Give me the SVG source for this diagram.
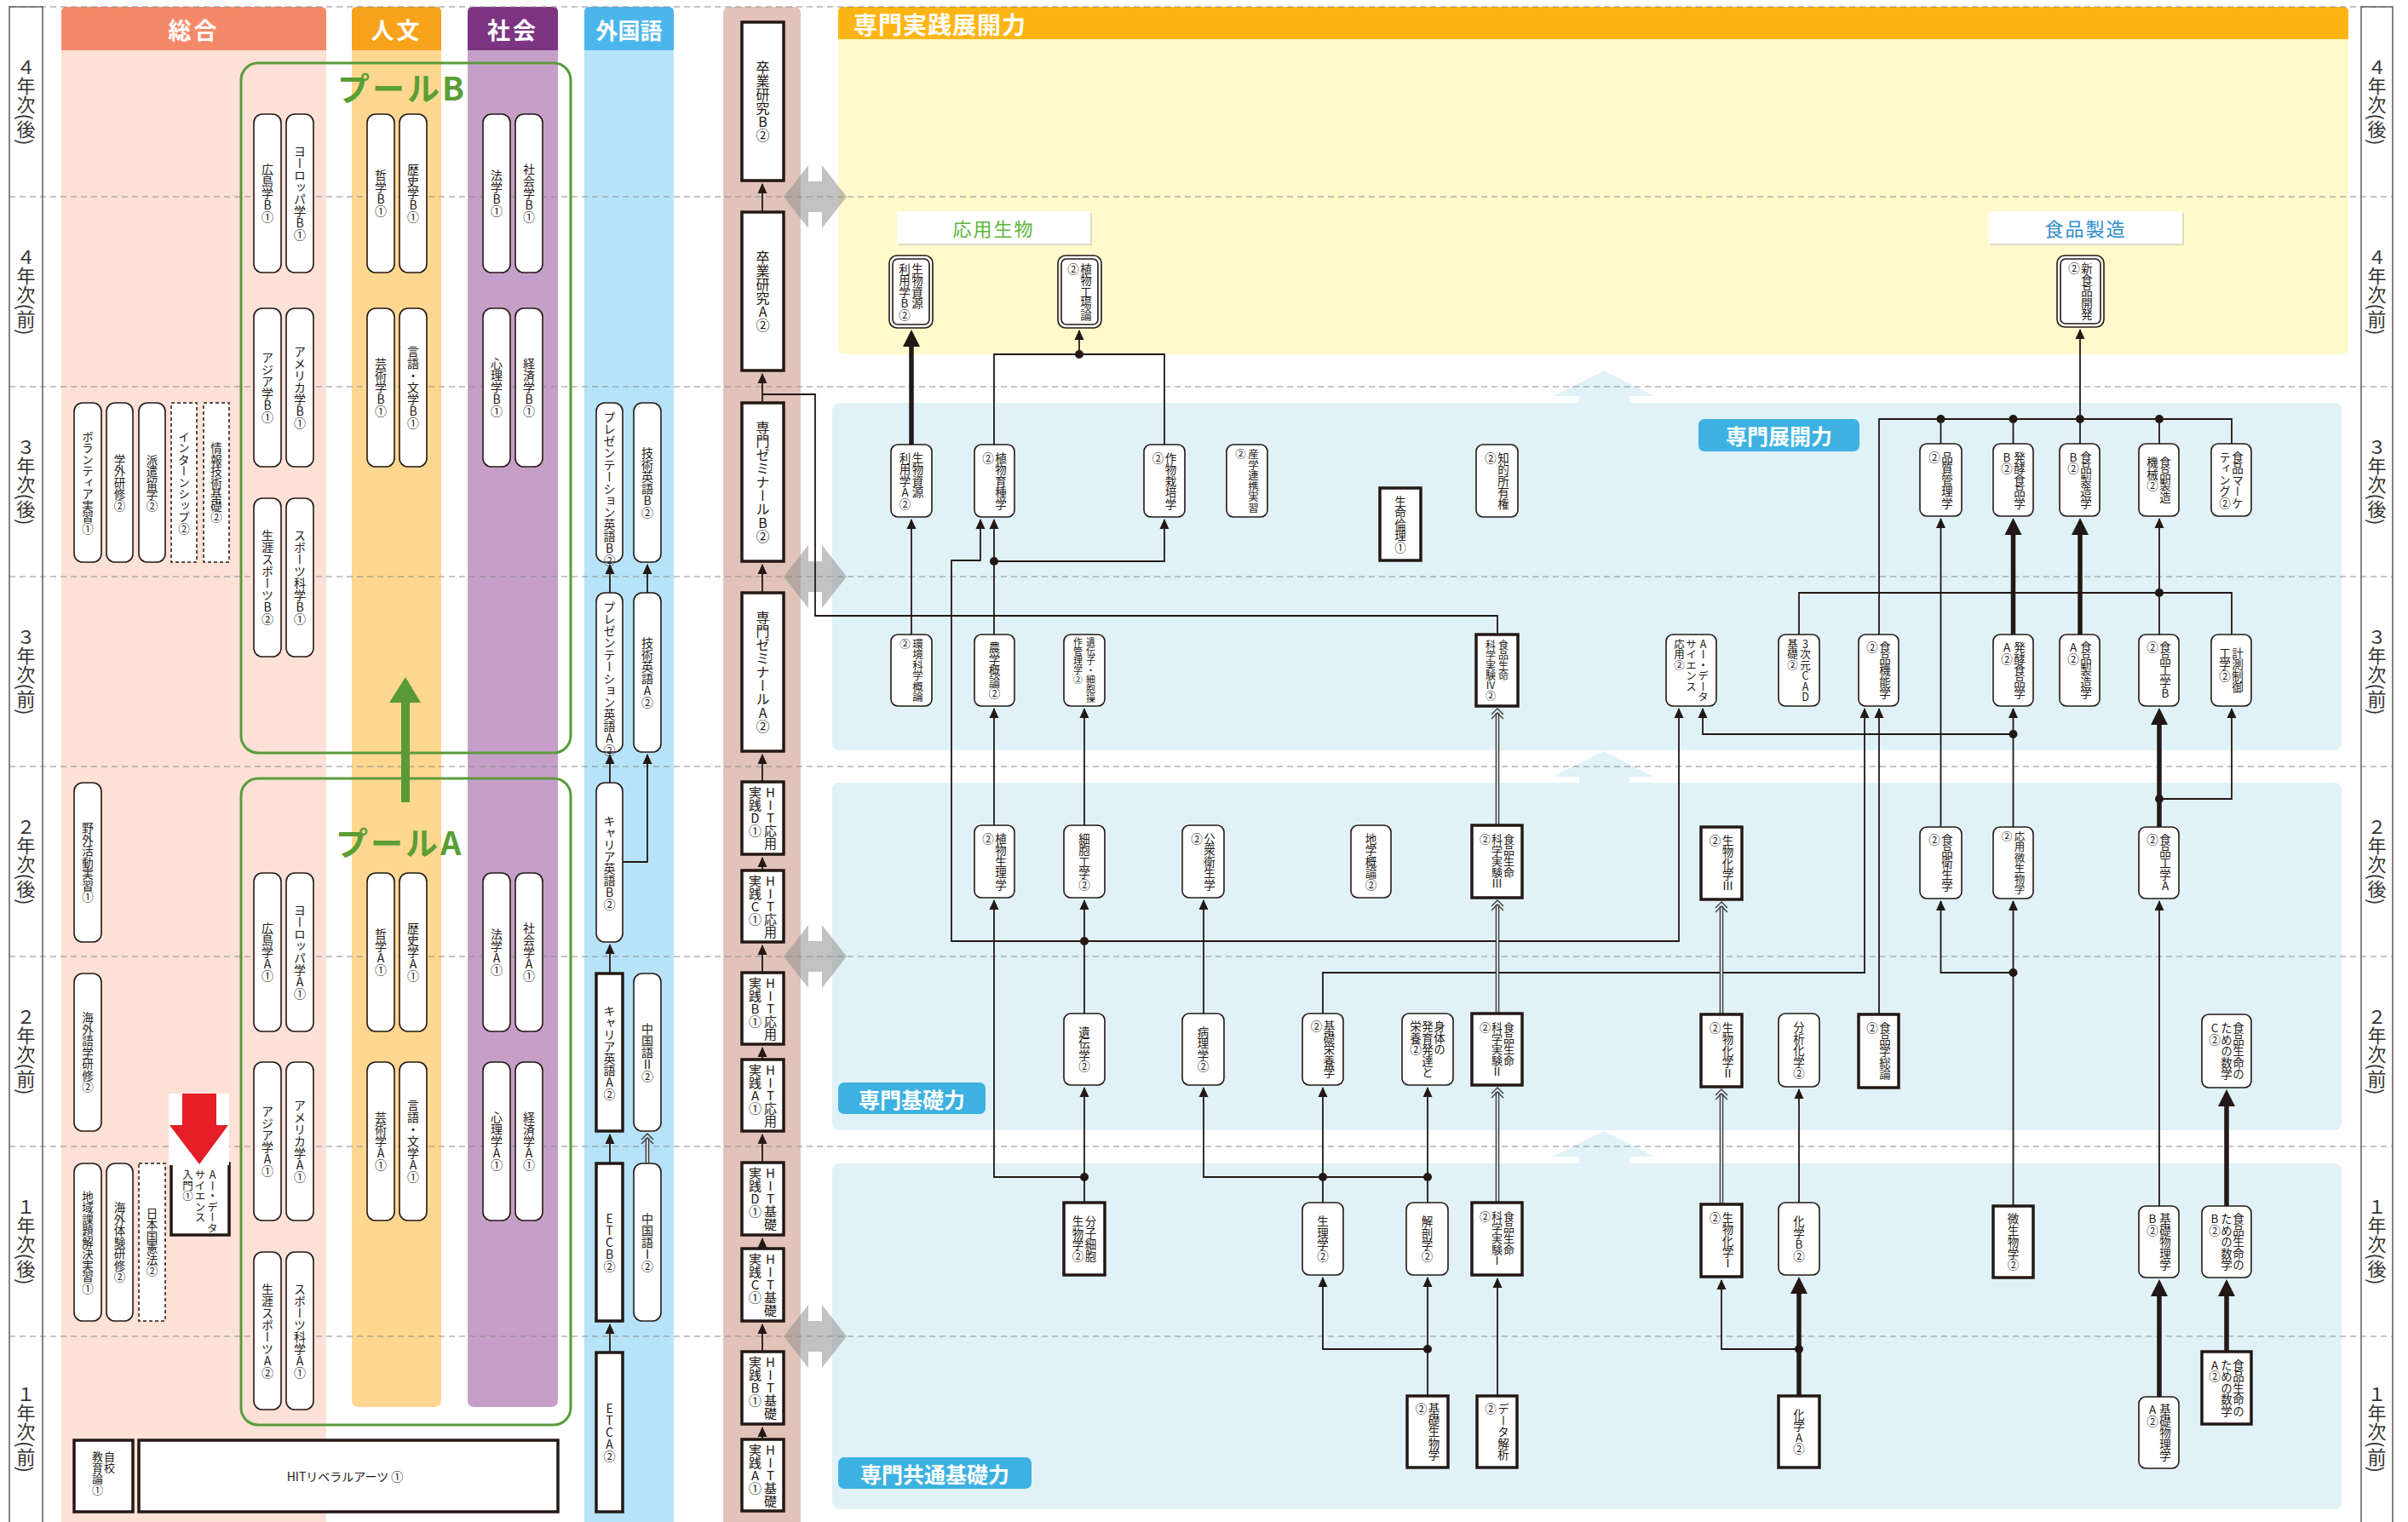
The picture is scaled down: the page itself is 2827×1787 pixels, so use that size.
<svg xmlns="http://www.w3.org/2000/svg" width="2827" height="1787" viewBox="0 0 2827 1787">
<defs>
<style>
.v{writing-mode:vertical-rl;text-orientation:upright;font-family:"Noto Sans CJK JP","Noto Sans CJK SC",sans-serif;fill:#231815}
.yr{writing-mode:vertical-rl;text-orientation:mixed;font-family:"Noto Sans CJK JP",sans-serif;font-size:22px;fill:#333}
.hd{font-family:"Noto Sans CJK JP",sans-serif;font-weight:700;fill:#fff;text-anchor:middle;dominant-baseline:central}
.rb{fill:#fff;stroke:#231815;stroke-width:1.6}
.tk{fill:#fff;stroke:#231815;stroke-width:3.5}
.ds{fill:#fff;stroke:#231815;stroke-width:1.5;stroke-dasharray:4 3}
.c{fill:none;stroke:#231815;stroke-width:1.8}
.ck{fill:none;stroke:#231815;stroke-width:5.5}
.dl{fill:none;stroke:#3a3a3a;stroke-width:4.6}
.dw{fill:none;stroke:#fff;stroke-width:1.6}
.dash{stroke:#8c8c8c;stroke-width:1.2;stroke-dasharray:7 5}
.dot{fill:#231815}
.pool{fill:none;stroke:#5B9B3B;stroke-width:3}
.pl{font-family:"Noto Sans CJK JP",sans-serif;font-size:38px;font-weight:700;fill:#5A9E35;letter-spacing:3px}
</style>
<marker id="a" viewBox="0 0 12 12" refX="11" refY="6" markerWidth="12" markerHeight="12" orient="auto" markerUnits="userSpaceOnUse"><path d="M0,0.5 L12,6 L0,11.5 z" fill="#231815"/></marker>
<marker id="ak" viewBox="0 0 20 20" refX="8" refY="10" markerWidth="20" markerHeight="20" orient="auto" markerUnits="userSpaceOnUse"><path d="M0,0 L20,10 L0,20 z" fill="#231815"/></marker>
<path id="chev" d="M-7,8 L0,1 L7,8 M-7,13 L0,6 L7,13" fill="none" stroke="#3a3a3a" stroke-width="1.4"/>
<polygon id="gda" points="-37,0 -8,-37 -8,-18 8,-18 8,-37 37,0 8,37 8,18 -8,18 -8,37" fill="#8f8f8f" fill-opacity="0.55"/>
<polygon id="lba" points="0,0 59,30 30,30 30,39 -29,39 -29,30 -60,30" fill="#E0F2F7"/>
</defs>
<rect width="2827" height="1787" fill="#fff"/>

<g id="backgrounds">
<rect x="72" y="59" width="311" height="1728" fill="#FDE1D6"/>
<path d="M72,59 V14 Q72,8 78,8 H377 Q383,8 383,14 V59 Z" fill="#F4896A"/>
<path d="M413,59 H518 V1644 Q518,1652 510,1652 H421 Q413,1652 413,1644 Z" fill="#FDD78F"/>
<path d="M413,59 V14 Q413,8 419,8 H512 Q518,8 518,14 V59 Z" fill="#F7A21B"/>
<path d="M549,59 H655 V1644 Q655,1652 647,1652 H557 Q549,1652 549,1644 Z" fill="#C59FC8"/>
<path d="M549,59 V14 Q549,8 555,8 H649 Q655,8 655,14 V59 Z" fill="#7C3483"/>
<rect x="686" y="59" width="105" height="1728" fill="#B7E3F8"/>
<path d="M686,59 V14 Q686,8 692,8 H785 Q791,8 791,14 V59 Z" fill="#4BB6EB"/>
<path d="M849,1787 V16 Q849,8 857,8 H932 Q940,8 940,16 V1787 Z" fill="#E2C3B9"/>
<path d="M984,46 V14 Q984,8 990,8 H2751 Q2757,8 2757,14 V46 Z" fill="#FDB515"/>
<path d="M984,46 H2757 V408 Q2757,416 2749,416 H992 Q984,416 984,408 Z" fill="#FFF9CC"/>
<rect x="977" y="473" width="1772" height="408" rx="8" fill="#E0F2F7"/>
<rect x="977" y="919" width="1772" height="408" rx="8" fill="#E0F2F7"/>
<rect x="977" y="1366" width="1772" height="406" rx="8" fill="#E0F2F7"/>
<use href="#lba" x="1883" y="435"/>
<use href="#lba" x="1883" y="882"/>
<use href="#lba" x="1883" y="1328"/>
</g>

<g id="row-lines">
<line class="dash" x1="11" y1="8" x2="2809" y2="8"/>
<line class="dash" x1="11" y1="231" x2="2809" y2="231"/>
<line class="dash" x1="11" y1="454" x2="2809" y2="454"/>
<line class="dash" x1="11" y1="677" x2="2809" y2="677"/>
<line class="dash" x1="11" y1="900" x2="2809" y2="900"/>
<line class="dash" x1="11" y1="1123" x2="2809" y2="1123"/>
<line class="dash" x1="11" y1="1346" x2="2809" y2="1346"/>
<line class="dash" x1="11" y1="1569" x2="2809" y2="1569"/>
</g>

<g id="year-columns">
<rect x="11" y="8" width="39" height="1790" fill="none" stroke="#666" stroke-width="1.6"/>
<rect x="2772" y="8" width="37" height="1790" fill="none" stroke="#666" stroke-width="1.6"/>
<g class="yr">
<text x="30.5" y="67.5">４年次(後)</text>
<text x="30.5" y="290.5">４年次(前)</text>
<text x="30.5" y="513.5">３年次(後)</text>
<text x="30.5" y="736.5">３年次(前)</text>
<text x="30.5" y="959.5">２年次(後)</text>
<text x="30.5" y="1182.5">２年次(前)</text>
<text x="30.5" y="1405.5">１年次(後)</text>
<text x="30.5" y="1626">１年次(前)</text>
<text x="2790.5" y="67.5">４年次(後)</text>
<text x="2790.5" y="290.5">４年次(前)</text>
<text x="2790.5" y="513.5">３年次(後)</text>
<text x="2790.5" y="736.5">３年次(前)</text>
<text x="2790.5" y="959.5">２年次(後)</text>
<text x="2790.5" y="1182.5">２年次(前)</text>
<text x="2790.5" y="1405.5">１年次(後)</text>
<text x="2790.5" y="1626">１年次(前)</text>
</g>
</g>

<g id="headers">
<text class="hd" x="227.5" y="34" font-size="27" letter-spacing="3">総合</text>
<text class="hd" x="465.5" y="34" font-size="27" letter-spacing="3">人文</text>
<text class="hd" x="602" y="34" font-size="27" letter-spacing="3">社会</text>
<text class="hd" x="738.5" y="34" font-size="26">外国語</text>
<text x="1002" y="28" font-size="28" font-weight="700" fill="#fff" dominant-baseline="central" letter-spacing="1" font-family="Noto Sans CJK JP, sans-serif">専門実践展開力</text>
</g>

<g id="gray-double-arrows">
<use href="#gda" x="957" y="231"/>
<use href="#gda" x="957" y="677"/>
<use href="#gda" x="957" y="1123"/>
<use href="#gda" x="957" y="1569"/>
</g>

<g id="area-labels">
<rect x="1055" y="250" width="227" height="38" fill="#bbb" fill-opacity="0.5"/>
<rect x="1053" y="248" width="227" height="38" fill="#fff"/>
<text x="1166.5" y="267" font-size="22" fill="#5DB43A" text-anchor="middle" dominant-baseline="central" letter-spacing="2" font-family="Noto Sans CJK JP, sans-serif">応用生物</text>
<rect x="2337" y="250" width="227" height="38" fill="#bbb" fill-opacity="0.5"/>
<rect x="2335" y="248" width="227" height="38" fill="#fff"/>
<text x="2448.5" y="267" font-size="22" fill="#2E8BCB" text-anchor="middle" dominant-baseline="central" letter-spacing="2" font-family="Noto Sans CJK JP, sans-serif">食品製造</text>
<rect x="1994" y="492" width="189" height="38" rx="7" fill="#3DB1E1"/>
<text class="hd" x="2088.5" y="511" font-size="25">専門展開力</text>
<rect x="984" y="1271" width="173" height="37" rx="7" fill="#3DB1E1"/>
<text class="hd" x="1070.5" y="1289.5" font-size="25">専門基礎力</text>
<rect x="984" y="1711" width="227" height="37" rx="7" fill="#3DB1E1"/>
<text class="hd" x="1097.5" y="1729.5" font-size="25">専門共通基礎力</text>
</g>

<g id="pools">
<rect class="pool" x="283" y="74" width="387" height="810" rx="20"/>
<rect class="pool" x="283" y="914" width="387" height="759" rx="20"/>
<text class="pl" x="396" y="118">プールB</text>
<text class="pl" x="394" y="1004">プールA</text>
<polygon points="471,942 481,942 481,825 494,825 476,795 457,825 471,825" fill="#5A9A36"/>
</g>

<g id="pool-nodes" font-size="14">
<g id="n-hiroB"><rect class="rb" x="298" y="134" width="32" height="186" rx="10"/><text class="v" x="314" y="192">広島学B①</text></g>
<g id="n-euroB"><rect class="rb" x="336" y="134" width="32" height="186" rx="10"/><text class="v" x="352" y="171">ヨーロッパ学B①</text></g>
<g id="n-philB"><rect class="rb" x="431" y="134" width="32" height="186" rx="10"/><text class="v" x="447" y="199">哲学B①</text></g>
<g id="n-histB"><rect class="rb" x="469" y="134" width="32" height="186" rx="10"/><text class="v" x="485" y="192">歴史学B①</text></g>
<g id="n-lawB"><rect class="rb" x="567" y="134" width="32" height="186" rx="10"/><text class="v" x="583" y="199">法学B①</text></g>
<g id="n-socB"><rect class="rb" x="605" y="134" width="32" height="186" rx="10"/><text class="v" x="621" y="192">社会学B①</text></g>
<g id="n-asiaB"><rect class="rb" x="298" y="362" width="32" height="186" rx="10"/><text class="v" x="314" y="413">アジア学B①</text></g>
<g id="n-amerB"><rect class="rb" x="336" y="362" width="32" height="186" rx="10"/><text class="v" x="352" y="406">アメリカ学B①</text></g>
<g id="n-artB"><rect class="rb" x="431" y="362" width="32" height="186" rx="10"/><text class="v" x="447" y="420">芸術学B①</text></g>
<g id="n-langB"><rect class="rb" x="469" y="362" width="32" height="186" rx="10"/><text class="v" x="485" y="406">言語・文学B①</text></g>
<g id="n-psyB"><rect class="rb" x="567" y="362" width="32" height="186" rx="10"/><text class="v" x="583" y="420">心理学B①</text></g>
<g id="n-ecoB"><rect class="rb" x="605" y="362" width="32" height="186" rx="10"/><text class="v" x="621" y="420">経済学B①</text></g>
<g id="n-lifeSpB"><rect class="rb" x="298" y="585" width="32" height="186" rx="10"/><text class="v" x="314" y="622">生涯スポーツB②</text></g>
<g id="n-spSciB"><rect class="rb" x="336" y="585" width="32" height="186" rx="10"/><text class="v" x="352" y="622">スポーツ科学B①</text></g>
<g id="n-hiroA"><rect class="rb" x="298" y="1025" width="32" height="186" rx="10"/><text class="v" x="314" y="1083">広島学A①</text></g>
<g id="n-euroA"><rect class="rb" x="336" y="1025" width="32" height="186" rx="10"/><text class="v" x="352" y="1062">ヨーロッパ学A①</text></g>
<g id="n-philA"><rect class="rb" x="431" y="1025" width="32" height="186" rx="10"/><text class="v" x="447" y="1090">哲学A①</text></g>
<g id="n-histA"><rect class="rb" x="469" y="1025" width="32" height="186" rx="10"/><text class="v" x="485" y="1083">歴史学A①</text></g>
<g id="n-lawA"><rect class="rb" x="567" y="1025" width="32" height="186" rx="10"/><text class="v" x="583" y="1090">法学A①</text></g>
<g id="n-socA"><rect class="rb" x="605" y="1025" width="32" height="186" rx="10"/><text class="v" x="621" y="1083">社会学A①</text></g>
<g id="n-asiaA"><rect class="rb" x="298" y="1247" width="32" height="186" rx="10"/><text class="v" x="314" y="1298">アジア学A①</text></g>
<g id="n-amerA"><rect class="rb" x="336" y="1247" width="32" height="186" rx="10"/><text class="v" x="352" y="1291">アメリカ学A①</text></g>
<g id="n-artA"><rect class="rb" x="431" y="1247" width="32" height="186" rx="10"/><text class="v" x="447" y="1305">芸術学A①</text></g>
<g id="n-langA"><rect class="rb" x="469" y="1247" width="32" height="186" rx="10"/><text class="v" x="485" y="1291">言語・文学A①</text></g>
<g id="n-psyA"><rect class="rb" x="567" y="1247" width="32" height="186" rx="10"/><text class="v" x="583" y="1305">心理学A①</text></g>
<g id="n-ecoA"><rect class="rb" x="605" y="1247" width="32" height="186" rx="10"/><text class="v" x="621" y="1305">経済学A①</text></g>
<g id="n-lifeSpA"><rect class="rb" x="298" y="1470" width="32" height="185" rx="10"/><text class="v" x="314" y="1506.5">生涯スポーツA②</text></g>
<g id="n-spSciA"><rect class="rb" x="336" y="1470" width="32" height="185" rx="10"/><text class="v" x="352" y="1506.5">スポーツ科学A①</text></g>
</g>

<g id="general-nodes" font-size="13.5">
<g id="n-volunteer"><rect class="rb" x="87" y="473" width="32" height="187" rx="10"/><text class="v" x="103" y="505.75">ボランティア実習①</text></g>
<g id="n-gakugai"><rect class="rb" x="125" y="473" width="31" height="187" rx="10"/><text class="v" x="140.5" y="532.75">学外研修②</text></g>
<g id="n-haken"><rect class="rb" x="163" y="473" width="31" height="187" rx="10"/><text class="v" x="178.5" y="532.75">派遣留学②</text></g>
<g id="n-intern"><rect class="ds" x="201" y="473" width="30" height="187"/><text class="v" x="216" y="505.75">インターンシップ②</text></g>
<g id="n-joho"><rect class="ds" x="239" y="473" width="30" height="187"/><text class="v" x="254" y="519.25">情報技術基礎②</text></g>
<g id="n-yagai"><rect class="rb" x="87" y="919" width="32" height="187" rx="10"/><text class="v" x="103" y="965.25">野外活動実習①</text></g>
<g id="n-kaigaigo"><rect class="rb" x="87" y="1143" width="32" height="185" rx="10"/><text class="v" x="103" y="1188.25">海外語学研修②</text></g>
<g id="n-chiiki"><rect class="rb" x="87" y="1366" width="32" height="185" rx="10"/><text class="v" x="103" y="1397.75">地域課題解決実習①</text></g>
<g id="n-kaigaitai"><rect class="rb" x="125" y="1366" width="31" height="185" rx="10"/><text class="v" x="140.5" y="1411.25">海外体験研修②</text></g>
<g id="n-kenpo"><rect class="ds" x="163" y="1366" width="31" height="185"/><text class="v" x="178.5" y="1418">日本国憲法②</text></g>
<g id="n-ainyumon" font-size="12.5"><rect class="tk" x="201" y="1366" width="68" height="84"/><text class="v" x="249.5" y="1373">AI・データ</text><text class="v" x="235" y="1373">サイエンス</text><text class="v" x="220.5" y="1373">入門①</text>
<rect x="198" y="1284" width="71" height="84" fill="#fff"/><polygon points="214,1284 254,1284 254,1321 268,1321 234,1367 199,1321 214,1321" fill="#E61E28"/></g>
<g id="n-jiko" font-size="13"><rect class="tk" x="87" y="1691" width="69" height="84"/><text class="v" x="128.5" y="1704">自校</text><text class="v" x="114.5" y="1704">教育論①</text></g>
<g id="n-liberal"><rect class="tk" x="163" y="1691" width="492" height="84"/><text x="405" y="1733" font-size="14" text-anchor="middle" dominant-baseline="central" fill="#231815" font-family="Noto Sans CJK JP, sans-serif">HITリベラルアーツ ①</text></g>
</g>

<g id="language-nodes" font-size="14">
<g id="n-presB"><rect class="rb" x="700" y="473" width="31" height="187" rx="10"/><text class="v" x="715.5" y="482.5">プレゼンテーション英語B②</text></g>
<g id="n-techB"><rect class="rb" x="744" y="473" width="32" height="187" rx="10"/><text class="v" x="760" y="524.5">技術英語B②</text></g>
<g id="n-presA"><rect class="rb" x="700" y="696" width="31" height="187" rx="10"/><text class="v" x="715.5" y="705.5">プレゼンテーション英語A②</text></g>
<g id="n-techA"><rect class="rb" x="744" y="696" width="32" height="187" rx="10"/><text class="v" x="760" y="747.5">技術英語A②</text></g>
<g id="n-careerB"><rect class="rb" x="700" y="919" width="31" height="187" rx="10"/><text class="v" x="715.5" y="956.5">キャリア英語B②</text></g>
<g id="n-careerA"><rect class="tk" x="700" y="1143" width="31" height="185"/><text class="v" x="715.5" y="1179.5">キャリア英語A②</text></g>
<g id="n-chn2"><rect class="rb" x="744" y="1143" width="32" height="185" rx="10"/><text class="v" x="760" y="1200.5">中国語Ⅱ②</text></g>
<g id="n-etcb"><rect class="tk" x="700" y="1366" width="31" height="185"/><text class="v" x="715.5" y="1423.5">ETCB②</text></g>
<g id="n-chn1"><rect class="rb" x="744" y="1366" width="32" height="185" rx="10"/><text class="v" x="760" y="1423.5">中国語Ⅰ②</text></g>
<g id="n-etca"><rect class="tk" x="700" y="1588" width="31" height="187"/><text class="v" x="715.5" y="1646.5">ETCA②</text></g>
</g>

<g id="practice-nodes">
<g id="n-sotsuB" font-size="16"><rect class="tk" x="871" y="26" width="49" height="186"/><text class="v" x="895.5" y="71">卒業研究B②</text></g>
<g id="n-sotsuA" font-size="16"><rect class="tk" x="871" y="249" width="49" height="186"/><text class="v" x="895.5" y="294">卒業研究A②</text></g>
<g id="n-semiB" font-size="16"><rect class="tk" x="871" y="473" width="49" height="186"/><text class="v" x="895.5" y="494">専門ゼミナールB②</text></g>
<g id="n-semiA" font-size="16"><rect class="tk" x="871" y="696" width="49" height="186"/><text class="v" x="895.5" y="717">専門ゼミナールA②</text></g>
<g id="n-oyoD" font-size="15"><rect class="tk" x="871" y="918" width="49" height="85"/><text class="v" x="904.5" y="923">HIT応用</text><text class="v" x="886.5" y="923">実践D①</text></g>
<g id="n-oyoC" font-size="15"><rect class="tk" x="871" y="1022" width="49" height="84"/><text class="v" x="904.5" y="1026.5">HIT応用</text><text class="v" x="886.5" y="1026.5">実践C①</text></g>
<g id="n-oyoB" font-size="15"><rect class="tk" x="871" y="1142" width="49" height="84"/><text class="v" x="904.5" y="1146.5">HIT応用</text><text class="v" x="886.5" y="1146.5">実践B①</text></g>
<g id="n-oyoA" font-size="15"><rect class="tk" x="871" y="1244" width="49" height="84"/><text class="v" x="904.5" y="1248.5">HIT応用</text><text class="v" x="886.5" y="1248.5">実践A①</text></g>
<g id="n-kisoD" font-size="15"><rect class="tk" x="871" y="1365" width="49" height="85"/><text class="v" x="904.5" y="1370">HIT基礎</text><text class="v" x="886.5" y="1370">実践D①</text></g>
<g id="n-kisoC" font-size="15"><rect class="tk" x="871" y="1466" width="49" height="85"/><text class="v" x="904.5" y="1471">HIT基礎</text><text class="v" x="886.5" y="1471">実践C①</text></g>
<g id="n-kisoB" font-size="15"><rect class="tk" x="871" y="1587" width="49" height="85"/><text class="v" x="904.5" y="1592">HIT基礎</text><text class="v" x="886.5" y="1592">実践B①</text></g>
<g id="n-kisoA" font-size="15"><rect class="tk" x="871" y="1690" width="49" height="84"/><text class="v" x="904.5" y="1694.5">HIT基礎</text><text class="v" x="886.5" y="1694.5">実践A①</text></g>
</g>

<g id="connectors">
<g class="c" marker-end="url(#a)">
<path d="M895,1690V1676"/><path d="M895,1587V1555"/><path d="M895,1466V1454"/><path d="M895,1365V1332"/>
<path d="M895,1244V1230"/><path d="M895,1142V1110"/><path d="M895,1022V1007"/><path d="M895,918V886"/>
<path d="M895,696V663"/><path d="M895,473V439"/><path d="M895,249V216"/>
<path d="M716,1588V1555"/><path d="M716,1366V1332"/><path d="M716,1143V1109"/><path d="M716,919V886"/>
<path d="M716,696V663"/><path d="M760,696V663"/><path d="M731,1012H760V886"/>
<path d="M1070,745V610"/><path d="M1267,416V388"/><path d="M1167,745V610"/><path d="M1167,659H1367V610"/>
<path d="M1167,969V832"/><path d="M1273,969V832"/><path d="M1273,1190V1057"/>
<path d="M1273,1105H1117V658H1151V610"/><path d="M1273,1105H1971V832"/>
<path d="M1273,1412V1277"/><path d="M1273,1382H1167V1057"/>
<path d="M1676,1639V1500"/><path d="M1676,1584H1553V1500"/>
<path d="M1553,1412V1277"/><path d="M1676,1412V1277"/><path d="M1676,1382H1413V1277"/>
<path d="M1413,1190V1057"/><path d="M1553,1190V1142H2189V832"/>
<path d="M1758,1639V1501"/><path d="M2112,1584H2021V1503"/><path d="M2112,1412V1279"/>
<path d="M2206,1191V832"/><path d="M2363.5,1416V1058"/><path d="M2363.5,1142H2278.5V1058"/>
<path d="M2278.5,971V609"/><path d="M2363.5,971V832"/><path d="M2363.5,862H1999V832"/>
<path d="M2535,745V609"/><path d="M2535,1416V1058"/><path d="M2535,938H2620V832"/>
<path d="M2442,492V387"/>
</g>
<g class="c">
<path d="M1167,522V416H1367V522"/>
<path d="M1758,745V723H957V463H895"/>
<path d="M2112,745V696H2620V745"/>
<path d="M2206,745V492H2620V521"/>
<path d="M2278.5,521V492"/><path d="M2363.5,521V492"/><path d="M2442,521V492"/><path d="M2535,521V492"/>
</g>
<g class="ck" marker-end="url(#ak)">
<path d="M1070,522V399"/>
<path d="M2363.5,745V620"/>
<path d="M2442,745V620"/>
<path d="M2535,971V843"/>
<path d="M2112,1639V1511"/>
<path d="M2535,1640V1514"/>
<path d="M2614,1587V1514"/>
<path d="M2614,1416V1291"/>
</g>
<g>
<path class="dl" d="M1758,1412V1282"/><path class="dw" d="M1758,1411V1283"/><use href="#chev" x="1758" y="1276"/>
<path class="dl" d="M1758,1190V1062"/><path class="dw" d="M1758,1189V1063"/><use href="#chev" x="1758" y="1056"/>
<path class="dl" d="M1758,969V837"/><path class="dw" d="M1758,968V838"/><use href="#chev" x="1758" y="831"/>
<path class="dl" d="M2021,1414V1284"/><path class="dw" d="M2021,1413V1285"/><use href="#chev" x="2021" y="1278"/>
<path class="dl" d="M2021,1191V1064"/><path class="dw" d="M2021,1190V1065"/><use href="#chev" x="2021" y="1058"/>
<path class="dl" d="M760,1366V1336"/><path class="dw" d="M760,1365V1337"/><use href="#chev" x="760" y="1330"/>
</g>
<g class="dot">
<circle cx="1267" cy="416" r="5"/><circle cx="1167" cy="659" r="5"/><circle cx="1273" cy="1105" r="5"/><circle cx="1273" cy="1382" r="5"/>
<circle cx="1676" cy="1584" r="5"/><circle cx="1553" cy="1382" r="5"/><circle cx="1676" cy="1382" r="5"/><circle cx="2112" cy="1584" r="5"/>
<circle cx="2363.5" cy="1142" r="5"/><circle cx="2363.5" cy="862" r="5"/><circle cx="2535" cy="696" r="5"/><circle cx="2535" cy="938" r="5"/>
<circle cx="2278.5" cy="492" r="5"/><circle cx="2363.5" cy="492" r="5"/><circle cx="2442" cy="492" r="5"/><circle cx="2535" cy="492" r="5"/>
</g>
</g>

<g id="major-nodes" font-size="13.5">
<g id="n-bioB"><rect class="rb" x="1044" y="300" width="51" height="85" rx="9"/><rect class="rb" x="1048" y="304" width="43" height="77" rx="6"/><text class="v" x="1077" y="308.75">生物資源</text><text class="v" x="1062" y="308.75">利用学B②</text></g>
<g id="n-plantfactory"><rect class="rb" x="1242" y="300" width="51" height="85" rx="9"/><rect class="rb" x="1246" y="304" width="43" height="77" rx="6"/><text class="v" x="1275" y="308.75">植物工場論</text><text class="v" x="1260" y="308.75">②</text></g>
<g id="n-newfood"><rect class="rb" x="2415" y="300" width="55" height="84" rx="9"/><rect class="rb" x="2419" y="304" width="47" height="76" rx="6"/><text class="v" x="2450" y="308.25">新食品開発</text><text class="v" x="2435" y="308.25">②</text></g>

<g id="n-bioA"><rect class="rb" x="1046" y="522" width="48" height="85" rx="8"/><text class="v" x="1077.5" y="530.75">生物資源</text><text class="v" x="1062.5" y="530.75">利用学A②</text></g>
<g id="n-breed"><rect class="rb" x="1144" y="522" width="47" height="85" rx="8"/><text class="v" x="1175" y="530.75">植物育種学</text><text class="v" x="1160" y="530.75">②</text></g>
<g id="n-cropcult"><rect class="rb" x="1343" y="522" width="48" height="85" rx="8"/><text class="v" x="1374.5" y="530.75">作物栽培学</text><text class="v" x="1359.5" y="530.75">②</text></g>
<g id="n-sangaku" font-size="12.5"><rect class="rb" x="1440" y="522" width="48" height="85" rx="8"/><text class="v" x="1471.5" y="527">産学連携実習</text><text class="v" x="1456.5" y="527">②</text></g>
<g id="n-ethics"><rect class="tk" x="1620" y="573" width="48" height="85"/><text class="v" x="1644" y="581.75">生命倫理①</text></g>
<g id="n-chiteki"><rect class="rb" x="1733" y="522" width="49" height="85" rx="8"/><text class="v" x="1765" y="530.75">知的所有権</text><text class="v" x="1750" y="530.75">②</text></g>
<g id="n-quality"><rect class="rb" x="2254" y="521" width="49" height="85" rx="8"/><text class="v" x="2286" y="529.75">品質管理学</text><text class="v" x="2271" y="529.75">②</text></g>
<g id="n-fermB"><rect class="rb" x="2340" y="521" width="47" height="85" rx="8"/><text class="v" x="2371" y="529.75">発酵食品学</text><text class="v" x="2356" y="529.75">B②</text></g>
<g id="n-mfgB"><rect class="rb" x="2418" y="521" width="47" height="85" rx="8"/><text class="v" x="2449" y="529.75">食品製造学</text><text class="v" x="2434" y="529.75">B②</text></g>
<g id="n-machine"><rect class="rb" x="2511" y="521" width="47" height="85" rx="8"/><text class="v" x="2542" y="536.5">食品製造</text><text class="v" x="2527" y="536.5">機械②</text></g>
<g id="n-marketing"><rect class="rb" x="2596" y="521" width="47" height="85" rx="8"/><text class="v" x="2627" y="529.75">食品マーケ</text><text class="v" x="2612" y="529.75">ティング②</text></g>

<g id="n-env" font-size="12.5"><rect class="rb" x="1046" y="745" width="48" height="84" rx="8"/><text class="v" x="1077.5" y="749.5">環境科学概論</text><text class="v" x="1062.5" y="749.5">②</text></g>
<g id="n-agri"><rect class="rb" x="1144" y="745" width="47" height="84" rx="8"/><text class="v" x="1167.5" y="753.25">農学概論②</text></g>
<g id="n-genecell" font-size="11"><rect class="rb" x="1249" y="745" width="48" height="84" rx="8"/><text class="v" x="1280.5" y="748.5">遺伝子・細胞操</text><text class="v" x="1265.5" y="748.5">作管理学②</text></g>
<g id="n-expIV" font-size="12"><rect class="tk" x="1733" y="745" width="49" height="84"/><text class="v" x="1765" y="751">食品生命</text><text class="v" x="1750" y="751">科学実験Ⅳ②</text></g>
<g id="n-aiapp" font-size="12.5"><rect class="rb" x="1956" y="745" width="59" height="84" rx="8"/><text class="v" x="1999.5" y="749.5">AI・データ</text><text class="v" x="1985.5" y="749.5">サイエンス</text><text class="v" x="1971.5" y="749.5">応用②</text></g>
<g id="n-cad" font-size="12.5"><rect class="rb" x="2088" y="745" width="48" height="84" rx="8"/><text class="v" x="2119.5" y="749.5">3次元CAD</text><text class="v" x="2104.5" y="749.5">基礎②</text></g>
<g id="n-func"><rect class="rb" x="2182" y="745" width="47" height="84" rx="8"/><text class="v" x="2213" y="753.25">食品機能学</text><text class="v" x="2198" y="753.25">②</text></g>
<g id="n-fermA"><rect class="rb" x="2340" y="745" width="47" height="84" rx="8"/><text class="v" x="2371" y="753.25">発酵食品学</text><text class="v" x="2356" y="753.25">A②</text></g>
<g id="n-mfgA"><rect class="rb" x="2418" y="745" width="47" height="84" rx="8"/><text class="v" x="2449" y="753.25">食品製造学</text><text class="v" x="2434" y="753.25">A②</text></g>
<g id="n-engB"><rect class="rb" x="2511" y="745" width="47" height="84" rx="8"/><text class="v" x="2542" y="753.25">食品工学B</text><text class="v" x="2527" y="753.25">②</text></g>
<g id="n-measure"><rect class="rb" x="2596" y="745" width="47" height="84" rx="8"/><text class="v" x="2627" y="760">計測制御</text><text class="v" x="2612" y="760">工学②</text></g>

<g id="n-plantphys"><rect class="rb" x="1144" y="969" width="47" height="85" rx="8"/><text class="v" x="1175" y="977.75">植物生理学</text><text class="v" x="1160" y="977.75">②</text></g>
<g id="n-cellEng"><rect class="rb" x="1249" y="969" width="48" height="85" rx="8"/><text class="v" x="1273" y="977.75">細胞工学②</text></g>
<g id="n-public"><rect class="rb" x="1388" y="969" width="49" height="85" rx="8"/><text class="v" x="1420" y="977.75">公衆衛生学</text><text class="v" x="1405" y="977.75">②</text></g>
<g id="n-geo"><rect class="rb" x="1586" y="969" width="47" height="85" rx="8"/><text class="v" x="1609.5" y="977.75">地学概論②</text></g>
<g id="n-expIII" font-size="13"><rect class="tk" x="1728" y="969" width="59" height="85"/><text class="v" x="1771.5" y="979">食品生命</text><text class="v" x="1757.5" y="979">科学実験Ⅲ</text><text class="v" x="1743.5" y="979">②</text></g>
<g id="n-biochemIII"><rect class="tk" x="1997" y="971" width="48" height="85"/><text class="v" x="2028.5" y="979.75">生物化学Ⅲ</text><text class="v" x="2013.5" y="979.75">②</text></g>
<g id="n-hygiene"><rect class="rb" x="2254" y="971" width="49" height="84" rx="8"/><text class="v" x="2286" y="979.25">食品衛生学</text><text class="v" x="2271" y="979.25">②</text></g>
<g id="n-appmicro" font-size="12.5"><rect class="rb" x="2340" y="971" width="47" height="84" rx="8"/><text class="v" x="2371" y="975.5">応用微生物学</text><text class="v" x="2356" y="975.5">②</text></g>
<g id="n-engA"><rect class="rb" x="2511" y="971" width="47" height="84" rx="8"/><text class="v" x="2542" y="979.25">食品工学A</text><text class="v" x="2527" y="979.25">②</text></g>

<g id="n-genetics"><rect class="rb" x="1249" y="1190" width="48" height="84" rx="8"/><text class="v" x="1273" y="1205">遺伝学②</text></g>
<g id="n-path"><rect class="rb" x="1388" y="1190" width="49" height="84" rx="8"/><text class="v" x="1412.5" y="1205">病理学②</text></g>
<g id="n-basicNut"><rect class="rb" x="1529" y="1190" width="48" height="84" rx="8"/><text class="v" x="1560.5" y="1198.25">基礎栄養学</text><text class="v" x="1545.5" y="1198.25">②</text></g>
<g id="n-body"><rect class="rb" x="1646" y="1190" width="60" height="84" rx="8"/><text class="v" x="1690" y="1198.25">身体の</text><text class="v" x="1676" y="1198.25">発育発達と</text><text class="v" x="1662" y="1198.25">栄養②</text></g>
<g id="n-expII" font-size="13"><rect class="tk" x="1728" y="1190" width="59" height="84"/><text class="v" x="1771.5" y="1199.5">食品生命</text><text class="v" x="1757.5" y="1199.5">科学実験Ⅱ</text><text class="v" x="1743.5" y="1199.5">②</text></g>
<g id="n-biochemII"><rect class="tk" x="1997" y="1191" width="48" height="85"/><text class="v" x="2028.5" y="1199.75">生物化学Ⅱ</text><text class="v" x="2013.5" y="1199.75">②</text></g>
<g id="n-anal"><rect class="rb" x="2088" y="1190" width="48" height="86" rx="8"/><text class="v" x="2112" y="1199.25">分析化学②</text></g>
<g id="n-foodsci"><rect class="tk" x="2182" y="1191" width="47" height="86"/><text class="v" x="2213" y="1200.25">食品学総論</text><text class="v" x="2198" y="1200.25">②</text></g>
<g id="n-mathC"><rect class="rb" x="2585" y="1191" width="58" height="86" rx="8"/><text class="v" x="2628" y="1200.25">食品生命の</text><text class="v" x="2614" y="1200.25">ための数学</text><text class="v" x="2600" y="1200.25">C②</text></g>

<g id="n-molcell"><rect class="tk" x="1249" y="1412" width="48" height="85"/><text class="v" x="1280.5" y="1427.5">分子細胞</text><text class="v" x="1265.5" y="1427.5">生物学②</text></g>
<g id="n-physio"><rect class="rb" x="1529" y="1412" width="48" height="85" rx="8"/><text class="v" x="1553" y="1427.5">生理学②</text></g>
<g id="n-anat"><rect class="rb" x="1651" y="1412" width="49" height="85" rx="8"/><text class="v" x="1675.5" y="1427.5">解剖学②</text></g>
<g id="n-expI" font-size="13"><rect class="tk" x="1728" y="1412" width="59" height="85"/><text class="v" x="1771.5" y="1422">食品生命</text><text class="v" x="1757.5" y="1422">科学実験Ⅰ</text><text class="v" x="1743.5" y="1422">②</text></g>
<g id="n-biochemI"><rect class="tk" x="1997" y="1414" width="48" height="85"/><text class="v" x="2028.5" y="1422.75">生物化学Ⅰ</text><text class="v" x="2013.5" y="1422.75">②</text></g>
<g id="n-chemB"><rect class="rb" x="2088" y="1412" width="48" height="85" rx="8"/><text class="v" x="2112" y="1427.5">化学B②</text></g>
<g id="n-micro"><rect class="tk" x="2340" y="1416" width="47" height="84"/><text class="v" x="2363.5" y="1424.25">微生物学②</text></g>
<g id="n-physB"><rect class="rb" x="2511" y="1416" width="47" height="84" rx="8"/><text class="v" x="2542" y="1424.25">基礎物理学</text><text class="v" x="2527" y="1424.25">B②</text></g>
<g id="n-mathB"><rect class="rb" x="2585" y="1416" width="58" height="84" rx="8"/><text class="v" x="2628" y="1424.25">食品生命の</text><text class="v" x="2614" y="1424.25">ための数学</text><text class="v" x="2600" y="1424.25">B②</text></g>

<g id="n-basicBio"><rect class="tk" x="1652" y="1639" width="48" height="84"/><text class="v" x="1683.5" y="1647.25">基礎生物学</text><text class="v" x="1668.5" y="1647.25">②</text></g>
<g id="n-data"><rect class="tk" x="1734" y="1639" width="47" height="84"/><text class="v" x="1765" y="1647.25">データ解析</text><text class="v" x="1750" y="1647.25">②</text></g>
<g id="n-chemA"><rect class="tk" x="2088" y="1639" width="48" height="84"/><text class="v" x="2112" y="1654">化学A②</text></g>
<g id="n-physA"><rect class="rb" x="2511" y="1640" width="47" height="84" rx="8"/><text class="v" x="2542" y="1648.25">基礎物理学</text><text class="v" x="2527" y="1648.25">A②</text></g>
<g id="n-mathA"><rect class="tk" x="2585" y="1587" width="58" height="85"/><text class="v" x="2628" y="1595.75">食品生命の</text><text class="v" x="2614" y="1595.75">ための数学</text><text class="v" x="2600" y="1595.75">A②</text></g>
</g>
</svg>
